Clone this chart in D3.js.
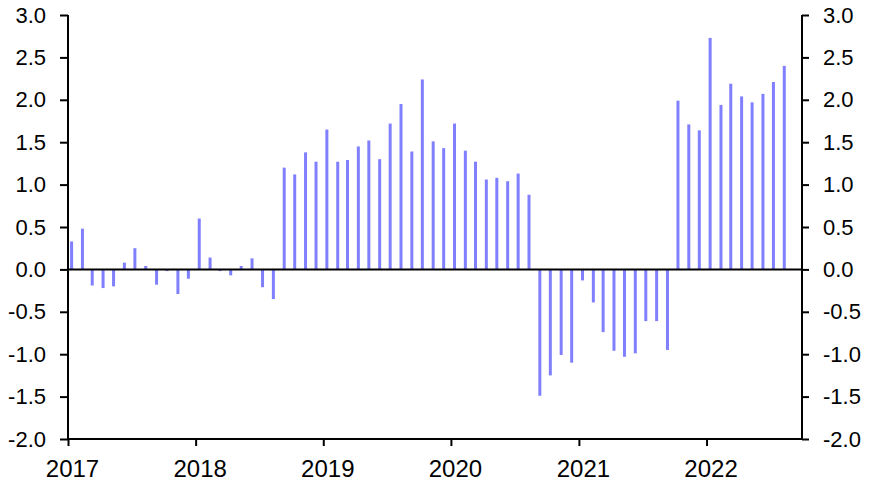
<!DOCTYPE html>
<html>
<head>
<meta charset="utf-8">
<script src="https://cdn.jsdelivr.net/npm/d3@7"></script>
<style>
  body { margin: 0; background: #fff; }
  text { font-family: "Liberation Sans", Arial, sans-serif; }
</style>
</head>
<body>
<svg id="chart" width="877" height="489"></svg>
<script>
// monthly values, Jan 2017 .. Aug 2022
const startMonth = new Date(2017, 0, 1);
const values = [
  0.33, 0.48, -0.19, -0.22, -0.20, 0.08, 0.25, 0.04, -0.18, -0.02, -0.29, -0.11,
  0.60, 0.14, -0.02, -0.07, 0.04, 0.13, -0.21, -0.35, 1.20, 1.12, 1.38, 1.27,
  1.65, 1.27, 1.29, 1.45, 1.52, 1.30, 1.72, 1.95, 1.39, 2.24, 1.51, 1.43,
  1.72, 1.40, 1.27, 1.06, 1.08, 1.04, 1.13, 0.88, -1.49, -1.25, -1.01, -1.10,
  -0.13, -0.39, -0.74, -0.96, -1.03, -0.99, -0.61, -0.61, -0.95, 1.99, 1.71, 1.64,
  2.73, 1.94, 2.19, 2.04, 1.97, 2.07, 2.21, 2.40
];
const yTicks = [3.0, 2.5, 2.0, 1.5, 1.0, 0.5, 0.0, -0.5, -1.0, -1.5, -2.0];
const yearTicks = [2017, 2018, 2019, 2020, 2021, 2022];

const data = values.map((v, i) => ({
  date: new Date(startMonth.getFullYear(), startMonth.getMonth() + i, 1),
  value: v
}));

const svg = d3.select("#chart");
const plotLeft = 68, plotRight = 802, plotTop = 15, plotBottom = 439;

const x = d3.scaleTime()
  .domain([new Date(2017, 0, 1), new Date(2022, 9, 1)])
  .range([plotLeft, plotRight]);

const y = d3.scaleLinear()
  .domain([-2, 3])
  .range([plotBottom, plotTop]);

const barColor = "#8080ff";

svg.append("g")
  .selectAll("rect")
  .data(data)
  .enter().append("rect")
  .attr("x", d => x(d.date) + 2.1)
  .attr("width", 3)
  .attr("y", d => y(Math.max(0, d.value)))
  .attr("height", d => Math.abs(y(d.value) - y(0)))
  .attr("fill", barColor);

// zero line
svg.append("line")
  .attr("x1", plotLeft).attr("x2", plotRight)
  .attr("y1", y(0)).attr("y2", y(0))
  .attr("stroke", "#000").attr("stroke-width", 2);

// plain hyphen for negatives, like the original
const fmt = d => d.toFixed(1);

const leftAxis = svg.append("g")
  .attr("transform", `translate(${plotLeft},0)`)
  .call(d3.axisLeft(y).tickValues(yTicks).tickFormat(fmt).tickSize(8).tickPadding(14));

const rightAxis = svg.append("g")
  .attr("transform", `translate(${plotRight},0)`)
  .call(d3.axisRight(y).tickValues(yTicks).tickFormat(fmt).tickSize(7).tickPadding(14));

const bottomAxis = svg.append("g")
  .attr("transform", `translate(0,${plotBottom})`)
  .call(d3.axisBottom(x)
    .tickValues(yearTicks.map(yr => new Date(yr, 0, 1)))
    .tickFormat(d3.timeFormat("%Y"))
    .tickSize(7).tickPadding(14));

[leftAxis, rightAxis, bottomAxis].forEach(g => {
  g.select(".domain").attr("stroke", "#000").attr("stroke-width", 2);
  g.selectAll(".tick line").attr("stroke", "#000").attr("stroke-width", 2);
  g.selectAll("text").attr("fill", "#000")
    .style("font-family", "'Liberation Sans', Arial, sans-serif");
});
leftAxis.selectAll("text").style("font-size", "22px");
rightAxis.selectAll("text").style("font-size", "22px");
bottomAxis.selectAll("text").style("font-size", "24px").attr("dx", 4);

// drop the outer tick stubs of the domain path
leftAxis.select(".domain").attr("d", `M0,${plotTop}V${plotBottom}`);
rightAxis.select(".domain").attr("d", `M0,${plotTop}V${plotBottom}`);
bottomAxis.select(".domain").attr("d", `M${plotLeft},0H${plotRight}`);
</script>
</body>
</html>
